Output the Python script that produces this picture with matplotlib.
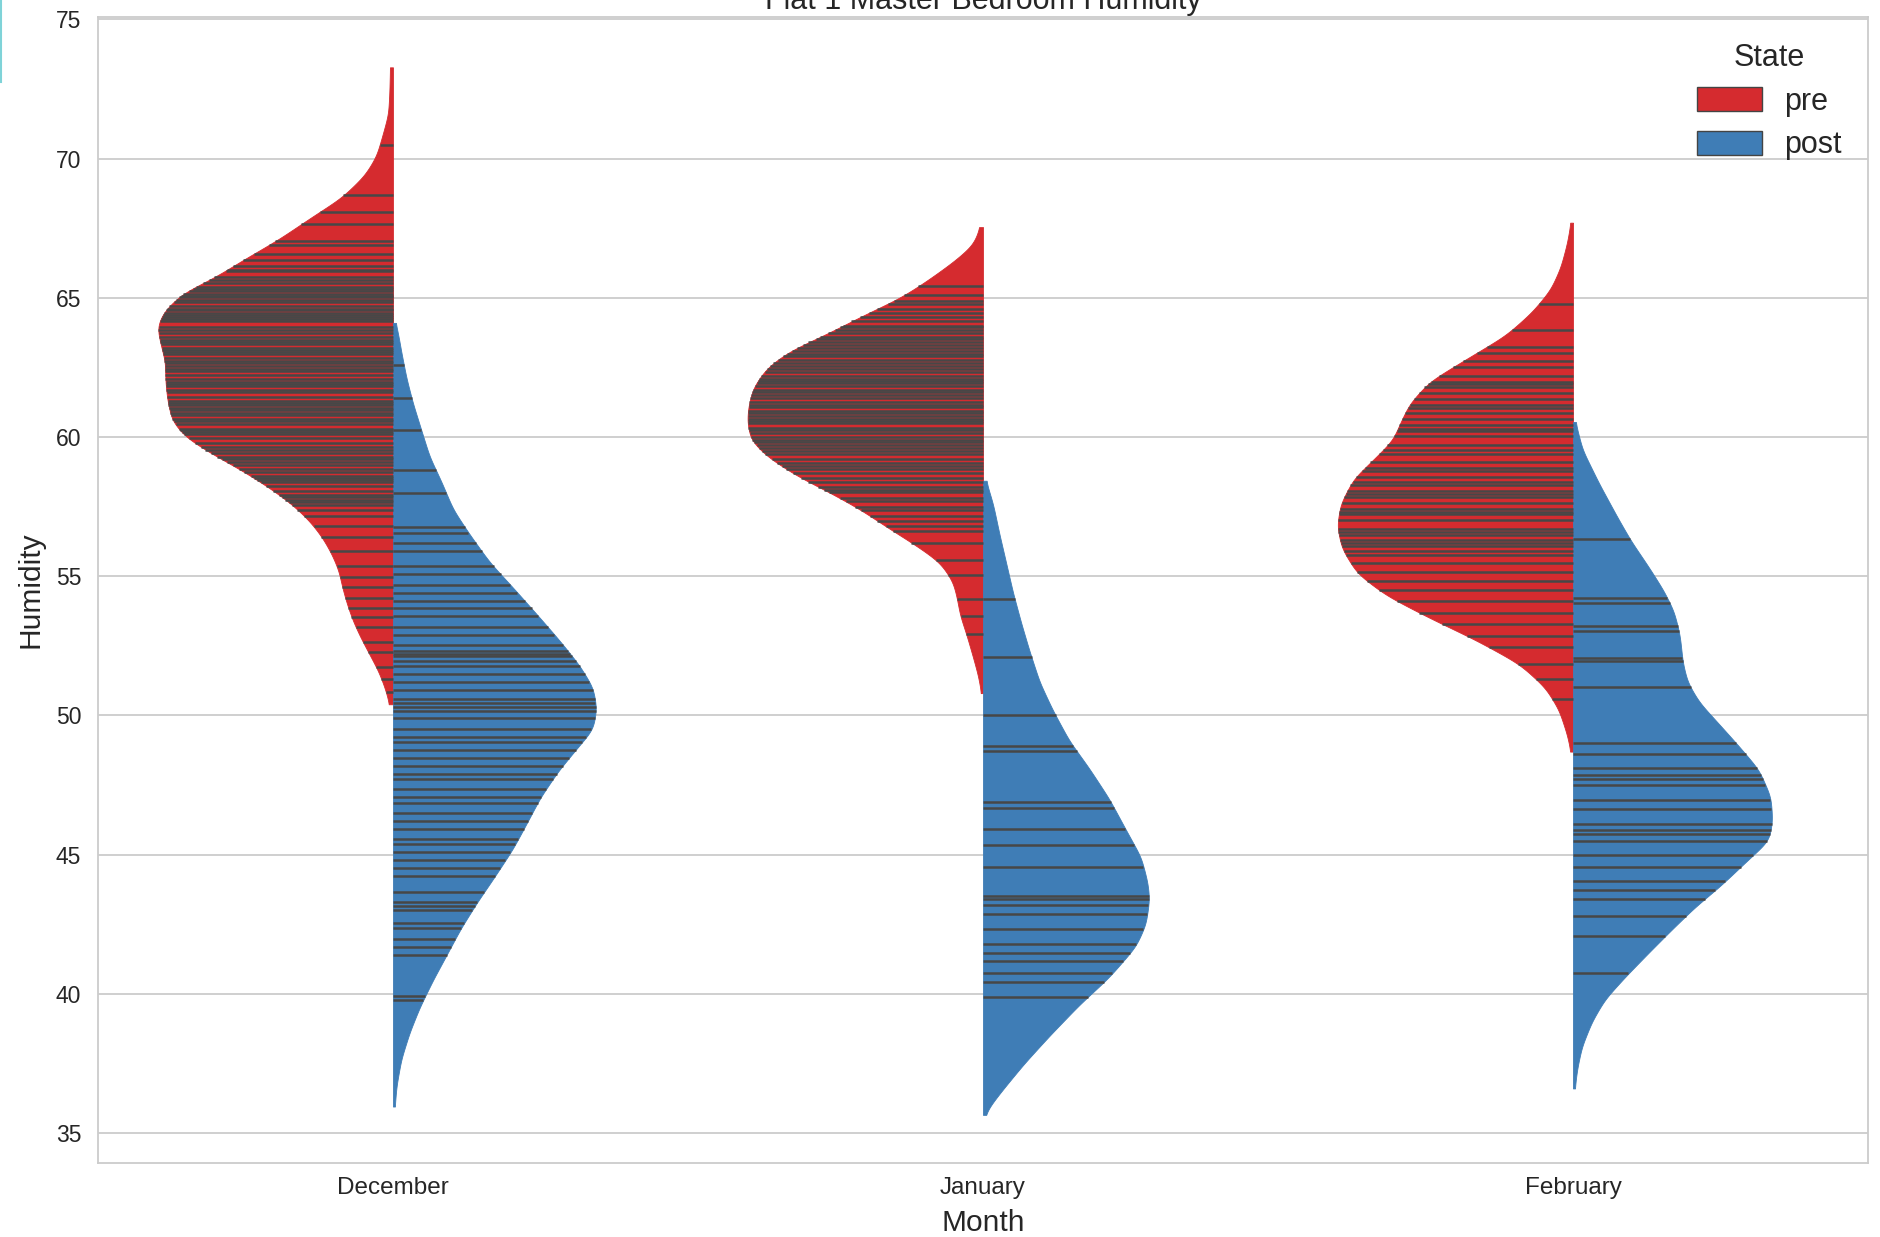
import numpy as np
import matplotlib
matplotlib.use("Agg")
import matplotlib.pyplot as plt
from matplotlib.patches import Patch
from matplotlib.lines import Line2D

plt.rcParams['font.family'] = ['Liberation Sans', 'DejaVu Sans']

# ---------------- data ----------------
months = ["December", "January", "February"]
states = ["pre", "post"]

# violin half outlines: humidity level -> half width (category units)
dec_pre_y = [73.28, 72.4, 71.6, 70.9, 70.1, 69.4, 68.6, 67.9, 67.1, 66.4, 65.75, 65.15, 64.5, 63.95,
             63.35, 62.7, 62.1, 61.4, 60.6, 60.0, 59.4, 58.8, 58.2, 57.6, 57.0, 56.4, 55.8, 55.2,
             54.6, 54.0, 53.4, 52.8, 52.2, 51.6, 51.0, 50.4]
dec_pre_w = [0.005, 0.006, 0.008, 0.017, 0.028, 0.048, 0.087, 0.138, 0.194, 0.251, 0.301, 0.358, 0.389,
             0.400, 0.394, 0.386, 0.386, 0.383, 0.375, 0.352, 0.307, 0.256, 0.211, 0.172, 0.142, 0.120,
             0.104, 0.092, 0.086, 0.078, 0.068, 0.055, 0.040, 0.025, 0.014, 0.006]

dec_post_y = [64.1, 63.8, 63.07, 62.1, 61.2, 60.25, 59.3, 58.4, 57.4, 56.5, 55.5, 54.6, 53.65, 52.7,
              51.8, 51.0, 50.26, 49.5, 48.8, 48.0, 47.06, 46.1, 45.2, 44.2, 43.3, 42.35, 41.4, 40.5,
              39.5, 38.6, 37.65, 36.7, 35.95]
dec_post_w = [0.004, 0.008, 0.014, 0.023, 0.034, 0.048, 0.062, 0.082, 0.102, 0.130, 0.164, 0.203, 0.243,
              0.282, 0.316, 0.339, 0.345, 0.339, 0.311, 0.280, 0.250, 0.226, 0.203, 0.172, 0.143, 0.115,
              0.091, 0.068, 0.045, 0.028, 0.014, 0.006, 0.003]

jan_pre_y = [67.54, 66.9, 66.3, 65.6, 65.0, 64.4, 63.7, 63.1, 62.5, 61.8, 61.2, 60.6, 59.9, 59.3, 58.6,
             58.0, 57.4, 56.7, 56.1, 55.5, 54.8, 54.2, 53.6, 52.9, 52.1, 51.4, 50.8]
jan_pre_w = [0.005, 0.017, 0.050, 0.096, 0.140, 0.200, 0.265, 0.327, 0.366, 0.389, 0.397, 0.400, 0.394,
             0.366, 0.315, 0.259, 0.208, 0.158, 0.113, 0.073, 0.051, 0.044, 0.039, 0.028, 0.017, 0.008,
             0.003]

jan_post_y = [58.43, 57.6, 56.5, 55.5, 54.4, 53.3, 52.3, 51.2, 50.2, 49.1, 48.1, 47.0, 45.9, 44.9, 44.0,
              43.4, 42.5, 41.7, 40.6, 39.6, 38.5, 37.5, 36.6, 36.0, 35.65]
jan_post_w = [0.005, 0.017, 0.028, 0.039, 0.051, 0.065, 0.079, 0.096, 0.118, 0.146, 0.180, 0.214, 0.242,
              0.268, 0.279, 0.282, 0.276, 0.259, 0.214, 0.163, 0.113, 0.070, 0.035, 0.013, 0.003]

feb_pre_y = [67.7, 66.97, 66.1, 65.3, 64.5, 63.65, 62.8, 62.0, 61.2, 60.5, 59.9, 59.3, 58.5, 57.6, 56.8,
             56.0, 55.1, 54.3, 53.5, 52.7, 51.85, 51.0, 50.2, 49.3, 48.7]
feb_pre_w = [0.004, 0.010, 0.021, 0.038, 0.069, 0.114, 0.181, 0.243, 0.277, 0.293, 0.305, 0.333, 0.372,
             0.394, 0.400, 0.392, 0.366, 0.316, 0.243, 0.164, 0.091, 0.047, 0.024, 0.010, 0.004]

feb_post_y = [60.54, 59.55, 58.34, 57.13, 56.28, 55.31, 54.47, 53.74, 52.9, 51.9, 51.2, 50.47, 49.75,
              48.9, 48.05, 47.08, 46.23, 45.5, 44.8, 43.9, 43.1, 42.3, 41.45, 40.6, 39.8, 39.0, 38.1,
              37.3, 36.6]
feb_post_w = [0.004, 0.016, 0.044, 0.075, 0.098, 0.129, 0.154, 0.171, 0.181, 0.186, 0.194, 0.214, 0.245,
              0.281, 0.315, 0.335, 0.338, 0.332, 0.296, 0.251, 0.206, 0.167, 0.127, 0.088, 0.054, 0.032,
              0.015, 0.007, 0.003]

# individual observations (stick lines)
dec_pre_obs = [70.50, 68.69, 68.09, 67.64, 67.03, 66.90, 66.58, 66.36, 66.13, 66.00, 65.98, 65.75, 65.65,
               65.53, 65.40, 65.33, 65.25, 65.12, 65.08, 65.02, 64.92, 64.85, 64.70, 64.60, 64.55, 64.47,
               64.40, 64.32, 64.25, 64.17, 63.95, 63.85, 63.72, 63.60, 63.49, 63.40, 63.34, 63.20, 63.12,
               63.05, 62.97, 62.85, 62.74, 62.65, 62.56, 62.45, 62.36, 62.21, 62.10, 61.99, 61.90, 61.84,
               61.70, 61.61, 61.45, 61.31, 61.22, 61.16, 61.05, 60.96, 60.85, 60.78, 60.65, 60.56, 60.45,
               60.30, 60.26, 60.18, 60.11, 59.95, 59.80, 59.65, 59.55, 59.43, 59.30, 59.20, 59.10, 58.98,
               58.85, 58.75, 58.60, 58.52, 58.45, 58.37, 58.25, 58.07, 57.92, 57.85, 57.75, 57.65, 57.55,
               57.39, 57.17, 56.79, 56.42, 55.89, 55.36, 54.98, 54.61, 54.23, 53.86, 53.55, 53.18, 52.65,
               52.27, 51.75, 51.30, 50.84]
dec_post_obs = [62.6, 61.4, 60.24, 58.83, 57.98, 56.76, 56.57, 56.20, 55.91, 55.35, 55.07, 54.69, 54.41,
                54.12, 53.84, 53.56, 53.18, 52.90, 52.52, 52.30, 52.22, 52.15, 51.96, 51.77, 51.49, 51.21,
                50.92, 50.60, 50.45, 50.30, 50.15, 49.89, 49.51, 49.23, 49.04, 48.76,
                48.47, 48.19, 47.91, 47.72, 47.34, 47.06, 46.87, 46.50, 46.21, 45.93, 45.56, 45.37, 45.08,
                44.80, 44.52, 44.24, 43.67, 43.30, 43.15, 43.01, 42.54, 42.35, 41.98, 41.69,
                41.41, 39.91, 39.77]
jan_pre_obs = [65.42, 65.11, 64.90, 64.79, 64.60, 64.47, 64.30, 64.15, 64.00, 63.94, 63.85, 63.73, 63.60,
               63.52, 63.40, 63.31, 63.20, 63.10, 62.99, 62.90, 62.78, 62.65, 62.56, 62.45, 62.35, 62.20,
               62.10, 62.03, 61.95, 61.82, 61.70, 61.61, 61.50, 61.40, 61.25, 61.15, 61.08, 60.95, 60.87,
               60.75, 60.66, 60.58, 60.50, 60.34, 60.25, 60.13, 60.00, 59.90, 59.81, 59.70, 59.60, 59.50,
               59.39, 59.20, 59.07, 58.95, 58.86, 58.70, 58.54, 58.40, 58.22, 58.10, 58.01, 57.80, 57.69,
               57.50, 57.37, 57.16, 57.00, 56.80, 56.63, 56.21, 55.57, 55.04, 54.19, 53.56, 52.92]
jan_post_obs = [54.19, 52.08, 50.00, 48.90, 48.73, 46.89, 46.67, 45.93, 45.34, 44.56, 43.50, 43.39, 43.18,
                42.86, 42.33, 41.80, 41.48, 41.17, 40.74, 40.42, 39.89]
feb_pre_obs = [64.79, 63.86, 63.24, 63.03, 62.72, 62.51, 62.20, 61.99, 61.90, 61.78, 61.58, 61.37, 61.16,
               61.05, 60.85, 60.64, 60.44, 60.30, 60.23, 60.02, 59.71, 59.55, 59.40, 59.09, 58.90, 58.78,
               58.57, 58.40, 58.26, 58.05, 57.95, 57.84, 57.63, 57.43, 57.30, 57.22, 57.01, 56.70, 56.60,
               56.49, 56.29, 56.20, 56.08, 55.90, 55.77, 55.46, 55.15, 54.83, 54.52, 54.11, 53.69, 53.28,
               52.86, 52.45, 51.83, 51.31, 50.58]
feb_post_obs = [56.34, 54.22, 54.04, 53.20, 53.04, 52.05, 51.95, 51.02, 49.02, 48.60, 48.11, 47.87, 47.72,
                47.50, 46.96, 46.64, 46.11, 45.87, 45.75, 45.50, 44.98, 44.56, 44.05, 43.73, 43.42, 42.80,
                42.07, 40.73]

outlines = {
    ("December", "pre"): (dec_pre_y, dec_pre_w, dec_pre_obs),
    ("December", "post"): (dec_post_y, dec_post_w, dec_post_obs),
    ("January", "pre"): (jan_pre_y, jan_pre_w, jan_pre_obs),
    ("January", "post"): (jan_post_y, jan_post_w, jan_post_obs),
    ("February", "pre"): (feb_pre_y, feb_pre_w, feb_pre_obs),
    ("February", "post"): (feb_post_y, feb_post_w, feb_post_obs),
}

# ---------------- style ----------------
colors = {"pre": "#d52b2f", "post": "#3f7db6"}
stick_color = "#474747"
text_color = "#262626"
grid_color = "#cccccc"


def smooth_outline(ys, ws, sigma=0.22):
    ys = np.asarray(ys, float)[::-1]
    ws = np.asarray(ws, float)[::-1]
    grid = np.linspace(ys[0], ys[-1], 900)
    w = np.interp(grid, ys, ws)
    step = grid[1] - grid[0]
    half = int(4 * sigma / step)
    k = np.exp(-0.5 * (np.arange(-half, half + 1) * step / sigma) ** 2)
    k /= k.sum()
    padded = np.concatenate([np.full(half, w[0]), w, np.full(half, w[-1])])
    ws_s = np.convolve(padded, k, mode="valid")
    return grid, ws_s


fig = plt.figure(figsize=(18.8, 12.37), dpi=100)
ax = fig.add_axes([0.0521, 0.0598, 0.9415, 0.9265])

for i, month in enumerate(months):
    for state in states:
        ys, ws, obs = outlines[(month, state)]
        grid, w = smooth_outline(ys, ws)
        sign = -1 if state == "pre" else 1
        ax.fill_betweenx(grid, i, i + sign * w, facecolor=colors[state],
                         edgecolor=colors[state], linewidth=0.6, zorder=2)
        for v in obs:
            wv = np.interp(v, grid, w)
            ax.plot([i, i + sign * wv], [v, v], color=stick_color, lw=1.8,
                    solid_capstyle="butt", zorder=3)

ax.set_xlim(-0.5, 2.5)
ax.set_ylim(33.92, 75.09)
ax.set_xticks(range(len(months)))
ax.set_xticklabels(months)
ax.set_yticks(np.arange(35, 76, 5))
ax.tick_params(axis="x", length=0, pad=10, labelsize=17.5, colors=text_color)
ax.tick_params(axis="y", length=0, pad=12, labelsize=16.5, colors=text_color)
ax.yaxis.grid(True, color=grid_color, lw=1.3, zorder=0)
ax.xaxis.grid(False)
ax.set_axisbelow(True)
for sp in ax.spines.values():
    sp.set_color(grid_color)
    sp.set_linewidth(1.3)

ax.set_xlabel("Month", fontsize=21.5, color=text_color, labelpad=7)
ax.set_ylabel("Humidity", fontsize=21.5, color=text_color, labelpad=8)
ax.set_title("Flat 1 Master Bedroom Humidity", fontsize=22, color=text_color, pad=6)

handles = [Patch(facecolor=colors[s], edgecolor="#444444", linewidth=1.0, label=s) for s in states]
leg = ax.legend(handles=handles, title="State", loc="upper right", frameon=False,
                fontsize=22, title_fontsize=22, handlelength=2.1, handleheight=0.85,
                handletextpad=0.75, labelspacing=0.45, borderaxespad=0.45)
for t in leg.get_texts():
    t.set_color(text_color)
leg.get_title().set_color(text_color)

# screenshot edge mark at top-left
fig.add_artist(Line2D([0.0007, 0.0007], [1.0, 1 - 82 / 1237], transform=fig.transFigure,
                      color="#7fd3d8", lw=1.5))

fig.savefig("out.png", dpi=100)
